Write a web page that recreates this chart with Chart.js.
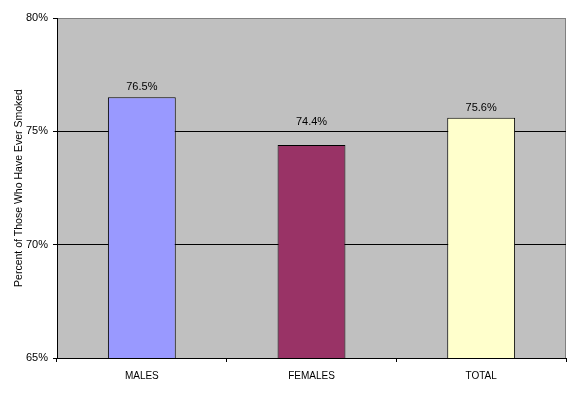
<!DOCTYPE html>
<html><head><meta charset="utf-8">
<script src="https://cdn.jsdelivr.net/npm/chart.js@4/dist/chart.umd.min.js"></script>
<style>html,body{margin:0;padding:0;background:#fff}#wrap{width:577px;height:394px}</style>
</head><body><div id="wrap"><canvas id="c" width="577" height="394"></canvas></div>
<script>
const categories = ["MALES", "FEMALES", "TOTAL"];
const values = [76.5, 74.4, 75.6];
const valueLabels = ["76.5%", "74.4%", "75.6%"];
const barColors = ["#9999FF", "#993366", "#FFFFCC"];
const yTicks = [65, 70, 75, 80];

const FONT = "'Liberation Sans', Arial, sans-serif";
// label lift above bar top (px), per bar – style only
const labelLift = [10, 23, 10];

const plotBg = {
  id: 'plotBg',
  beforeDraw(chart) {
    const {ctx, chartArea: a} = chart;
    ctx.save();
    ctx.fillStyle = '#C0C0C0';
    ctx.fillRect(a.left, a.top, a.right - a.left, a.bottom - a.top);
    ctx.strokeStyle = '#808080';
    ctx.lineWidth = 1;
    ctx.strokeRect(a.left + 0.5, a.top + 0.5, a.right - a.left - 1, a.bottom - a.top);
    ctx.restore();
  }
};
const valueLabelsPlugin = {
  id: 'valueLabels',
  afterDatasetsDraw(chart) {
    const {ctx} = chart;
    const meta = chart.getDatasetMeta(0);
    ctx.save();
    ctx.font = '11px ' + FONT;
    ctx.fillStyle = '#000';
    ctx.textAlign = 'center';
    ctx.textBaseline = 'middle';
    meta.data.forEach((bar, i) => {
      ctx.fillText(valueLabels[i], bar.x, bar.y - labelLift[i]);
    });
    ctx.restore();
  }
};

new Chart(document.getElementById('c'), {
  type: 'bar',
  data: {
    labels: categories,
    datasets: [{
      data: values,
      backgroundColor: barColors,
      borderColor: '#000',
      borderWidth: 1,
      barPercentage: 0.4,
      categoryPercentage: 1.0
    }]
  },
  options: {
    responsive: false,
    animation: false,
    devicePixelRatio: 1,
    layout: {padding: {top: 18, right: 11, left: 0, bottom: 0}},
    plugins: {legend: {display: false}, tooltip: {enabled: false}},
    scales: {
      x: {
        offset: true,
        grid: {offset: true, drawOnChartArea: false, color: '#000', tickColor: '#000', tickLength: 4},
        border: {color: '#000', width: 1},
        ticks: {color: '#000', font: {family: FONT, size: 10}, padding: 8},
        afterFit(s) { s.height = 36; }
      },
      y: {
        min: 65, max: 80,
        afterBuildTicks(s) { s.ticks = yTicks.map(v => ({value: v})); },
        grid: {
          color: ctx => (ctx.tick && ctx.tick.value === 80) ? 'rgba(0,0,0,0)' : '#000',
          tickColor: '#000', tickLength: 4
        },
        border: {color: '#000', width: 1},
        ticks: {color: '#000', font: {family: FONT, size: 11}, padding: 5, callback: v => v + '%'},
        title: {display: true, text: 'Percent of Those Who Have Ever Smoked', color: '#000', font: {family: FONT, size: 10.5}, padding: {top: 13, bottom: 2}},
        afterFit(s) { s.width = 57; }
      }
    }
  },
  plugins: [plotBg, valueLabelsPlugin]
});
</script></body></html>
